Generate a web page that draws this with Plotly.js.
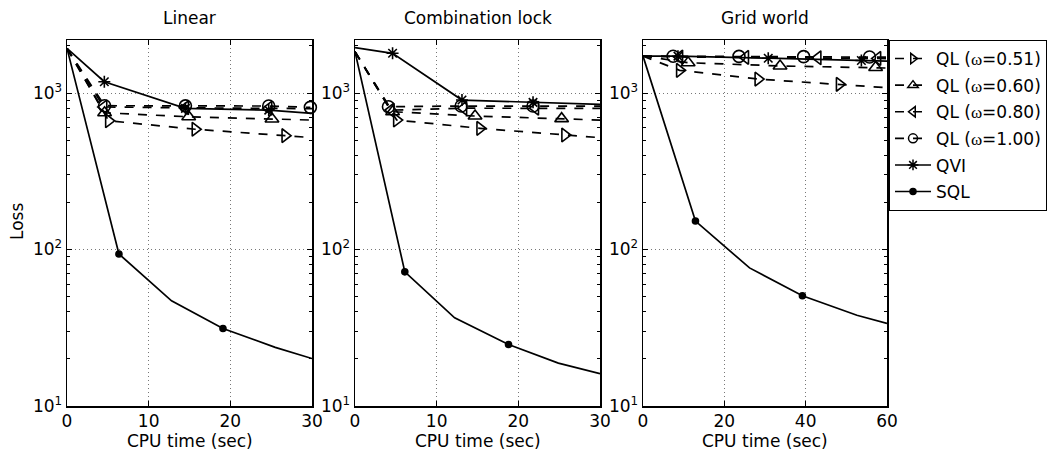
<!DOCTYPE html>
<html>
<head>
<meta charset="utf-8">
<script src="https://cdn.plot.ly/plotly-3.0.1.min.js"></script>
<style>html,body{margin:0;padding:0;background:#fff;}#chart{width:1052px;height:450px;}</style>
</head>
<body>
<div id="chart"></div>
<script>
// ---------- data ----------
var panelTitles = ["Linear", "Combination lock", "Grid world"];
var xTickVals = [[0, 10, 20, 30], [0, 10, 20, 30], [0, 20, 40, 60]];
var xRanges = [[0, 30], [0, 30], [0, 60]];
var xTitle = "CPU time (sec)";
var yTitle = "Loss";
var seriesNames = ["QL (ω=0.51)", "QL (ω=0.60)", "QL (ω=0.80)", "QL (ω=1.00)", "QVI", "SQL"];

// Linear
var lin_t_ql051 = [0, 5.1, 15.7, 26.7, 30];
var lin_ql051 = [1930, 665, 587, 534, 519];
var lin_t_ql060 = [0, 4.6, 14.9, 25.1, 30];
var lin_ql060 = [1930, 748, 705, 682, 672];
var lin_t_ql080 = [0, 4.5, 14.5, 24.7, 30];
var lin_ql080 = [1930, 815, 805, 800, 795];
var lin_t_ql100 = [0, 4.6, 14.5, 24.7, 29.8];
var lin_ql100 = [1930, 830, 828, 826, 810];
var lin_t_qvi = [0, 4.57, 14.5, 24.7, 30];
var lin_qvi = [1930, 1181, 798, 778, 741];
var lin_t_sql = [0, 6.36, 12.8, 19.1, 25.5, 30];
var lin_sql = [1930, 93.7, 47, 31.3, 23.7, 20.1];

// Combination lock
var cmb_t_ql051 = [0, 5.1, 15.3, 25.7, 30];
var cmb_ql051 = [1837, 672, 595, 539, 519];
var cmb_t_ql060 = [0, 4.6, 14.7, 25.3, 30];
var cmb_ql060 = [1837, 760, 713, 686, 672];
var cmb_t_ql080 = [0, 4.4, 13.3, 22.1, 30];
var cmb_ql080 = [1837, 778, 800, 800, 798];
var cmb_t_ql100 = [0, 4.1, 13.0, 21.8, 30];
var cmb_ql100 = [1837, 818, 826, 826, 826];
var cmb_t_qvi = [0, 4.6, 13.1, 21.8, 30];
var cmb_qvi = [1950, 1795, 902, 872, 847];
var cmb_t_sql = [0, 6.1, 12.2, 18.8, 24.9, 30];
var cmb_sql = [1837, 72, 36.6, 24.7, 18.8, 16.1];

// Grid world
var grd_t_ql051 = [0, 9.0, 28.3, 48.3, 60];
var grd_ql051 = [1722, 1397, 1228, 1137, 1082];
var grd_t_ql060 = [0, 11.1, 33.7, 57.2, 60];
var grd_ql060 = [1722, 1563, 1490, 1455, 1445];
var grd_t_ql080 = [0, 9.0, 25.2, 43.0, 57.7, 60];
var grd_ql080 = [1722, 1700, 1690, 1680, 1665, 1660];
var grd_t_ql100 = [0, 7.4, 23.6, 39.5, 55.7, 60];
var grd_ql100 = [1722, 1720, 1715, 1710, 1700, 1695];
var grd_t_qvi = [0, 8.6, 30.8, 53.7, 60];
var grd_qvi = [1722, 1720, 1670, 1615, 1600];
var grd_t_sql = [0, 12.9, 26.2, 39.2, 52.6, 60];
var grd_sql = [1722, 152, 76.3, 50.6, 38, 33.7];

// which points carry a marker (indices into each series)
var markIdx = {
  lin: [[1, 2, 3], [1, 2, 3], [1, 2, 3], [1, 2, 3, 4], [1, 2, 3], [1, 3]],
  cmb: [[1, 2, 3], [1, 2, 3], [1, 2, 3], [1, 2, 3], [1, 2, 3], [1, 3]],
  grd: [[1, 2, 3], [1, 2, 3], [1, 2, 3, 4], [1, 2, 3, 4], [1, 2, 3], [1, 3]]
};

var panels = [
  {key: "lin", t: [lin_t_ql051, lin_t_ql060, lin_t_ql080, lin_t_ql100, lin_t_qvi, lin_t_sql],
   y: [lin_ql051, lin_ql060, lin_ql080, lin_ql100, lin_qvi, lin_sql]},
  {key: "cmb", t: [cmb_t_ql051, cmb_t_ql060, cmb_t_ql080, cmb_t_ql100, cmb_t_qvi, cmb_t_sql],
   y: [cmb_ql051, cmb_ql060, cmb_ql080, cmb_ql100, cmb_qvi, cmb_sql]},
  {key: "grd", t: [grd_t_ql051, grd_t_ql060, grd_t_ql080, grd_t_ql100, grd_t_qvi, grd_t_sql],
   y: [grd_ql051, grd_ql060, grd_ql080, grd_ql100, grd_qvi, grd_sql]}
];

// ---------- styles ----------
var symbols = ["triangle-right-open", "triangle-up-open", "triangle-left-open", "circle-open", "asterisk-open", "circle"];
var msizes = [12, 12, 12, 12, 10, 6];
var dashes = ["dash", "dash", "dash", "dash", "solid", "solid"];
var FONT = "DejaVu Sans, Liberation Sans, Arial, sans-serif";
var FS = 17;

var traces = [];
panels.forEach(function (p, pi) {
  var xa = pi === 0 ? "x" : "x" + (pi + 1);
  var ya = pi === 0 ? "y" : "y" + (pi + 1);
  for (var s = 0; s < 6; s++) {
    traces.push({
      type: "scatter", mode: "lines", x: p.t[s], y: p.y[s], xaxis: xa, yaxis: ya,
      line: {color: "#000", width: 1.7, dash: dashes[s]}, showlegend: false, hoverinfo: "skip", cliponaxis: false
    });
    var idx = markIdx[p.key][s];
    traces.push({
      type: "scatter", mode: "markers", x: idx.map(function (i) { return p.t[s][i]; }),
      y: idx.map(function (i) { return p.y[s][i]; }), xaxis: xa, yaxis: ya,
      marker: {symbol: symbols[s], size: msizes[s], color: "#000", line: {color: "#000", width: 1.6}},
      showlegend: false, hoverinfo: "skip", cliponaxis: false
    });
  }
});
// legend entries
for (var s = 0; s < 6; s++) {
  var nm = seriesNames[s].replace("ω", "<span style=\"font-family:'Liberation Serif',serif\">ω</span>");
  traces.push({
    type: "scatter", mode: "lines+markers", x: [null], y: [null], xaxis: "x", yaxis: "y", name: nm,
    legendgroup: "g" + s,
    line: {color: "#000", width: 1.6, dash: dashes[s]},
    marker: {symbol: symbols[s], size: s === 5 ? 6 : 9, color: "#000", line: {color: "#000", width: 1.5}},
    showlegend: true
  });
}

var xDomains = [[67 / 1052, 312 / 1052], [355 / 1052, 600 / 1052], [643 / 1052, 887 / 1052]];
var yDomain = [1 - 406 / 450, 1 - 40 / 450];

var layout = {
  width: 1052, height: 450,
  margin: {l: 0, r: 0, t: 0, b: 0},
  paper_bgcolor: "#fff", plot_bgcolor: "#fff",
  font: {family: FONT, size: FS, color: "#000"},
  showlegend: true,
  legend: {x: 889 / 1052, y: 1 - 40 / 450, xanchor: "left", yanchor: "top",
    bordercolor: "#000", borderwidth: 1, bgcolor: "#fff", font: {family: FONT, size: 17, color: "#000"},
    itemwidth: 36, tracegroupgap: 1.5},
  annotations: [],
  shapes: []
};

for (var i = 0; i < 3; i++) {
  var xk = i === 0 ? "xaxis" : "xaxis" + (i + 1);
  var yk = i === 0 ? "yaxis" : "yaxis" + (i + 1);
  layout[xk] = {
    domain: xDomains[i], range: xRanges[i], tickvals: xTickVals[i], ticks: "inside", ticklen: 5,
    tickcolor: "#000", showline: true, linecolor: "#000", linewidth: 1.5, mirror: "ticks",
    showgrid: true, gridcolor: "#777", griddash: "1px,3px", gridwidth: 1, zeroline: false,
    ticklabelstandoff: -1,
    tickfont: {family: FONT, size: FS, color: "#000"}, anchor: i === 0 ? "y" : "y" + (i + 1)
  };
  layout[yk] = {
    domain: yDomain, type: "log", range: [1, 3.339], tickvals: [10, 100, 1000],
    ticktext: ["10<sup>1</sup>", "10<sup>2</sup>", "10<sup>3</sup>"],
    ticks: "inside", ticklen: 5, tickcolor: "#000", showline: true, linecolor: "#000", linewidth: 1.5,
    mirror: "ticks", showgrid: true, gridcolor: "#777", griddash: "1px,3px", gridwidth: 1, zeroline: false,
    minor: {ticks: "inside", ticklen: 3, tickcolor: "#000", dtick: "D1", showgrid: false},
    tickfont: {family: FONT, size: FS, color: "#000"}, anchor: i === 0 ? "x" : "x" + (i + 1)
  };
  var xc = (xDomains[i][0] + xDomains[i][1]) / 2;
  layout.annotations.push({
    text: panelTitles[i], xref: "paper", yref: "paper",
    x: xc, y: 1 - 18 / 450, xanchor: "center", yanchor: "middle",
    showarrow: false, font: {family: FONT, size: FS, color: "#000"}
  });
  layout.annotations.push({
    text: xTitle, xref: "paper", yref: "paper",
    x: xc, y: 1 - 441 / 450, xanchor: "center", yanchor: "middle",
    showarrow: false, font: {family: FONT, size: FS, color: "#000"}
  });
}
layout.annotations.push({
  text: yTitle, xref: "paper", yref: "paper", textangle: -90,
  x: 17 / 1052, y: 1 - 222 / 450, xanchor: "center", yanchor: "middle",
  showarrow: false, font: {family: FONT, size: FS, color: "#000"}
});

Plotly.newPlot("chart", traces, layout, {staticPlot: true, displayModeBar: false});
</script>
</body>
</html>
